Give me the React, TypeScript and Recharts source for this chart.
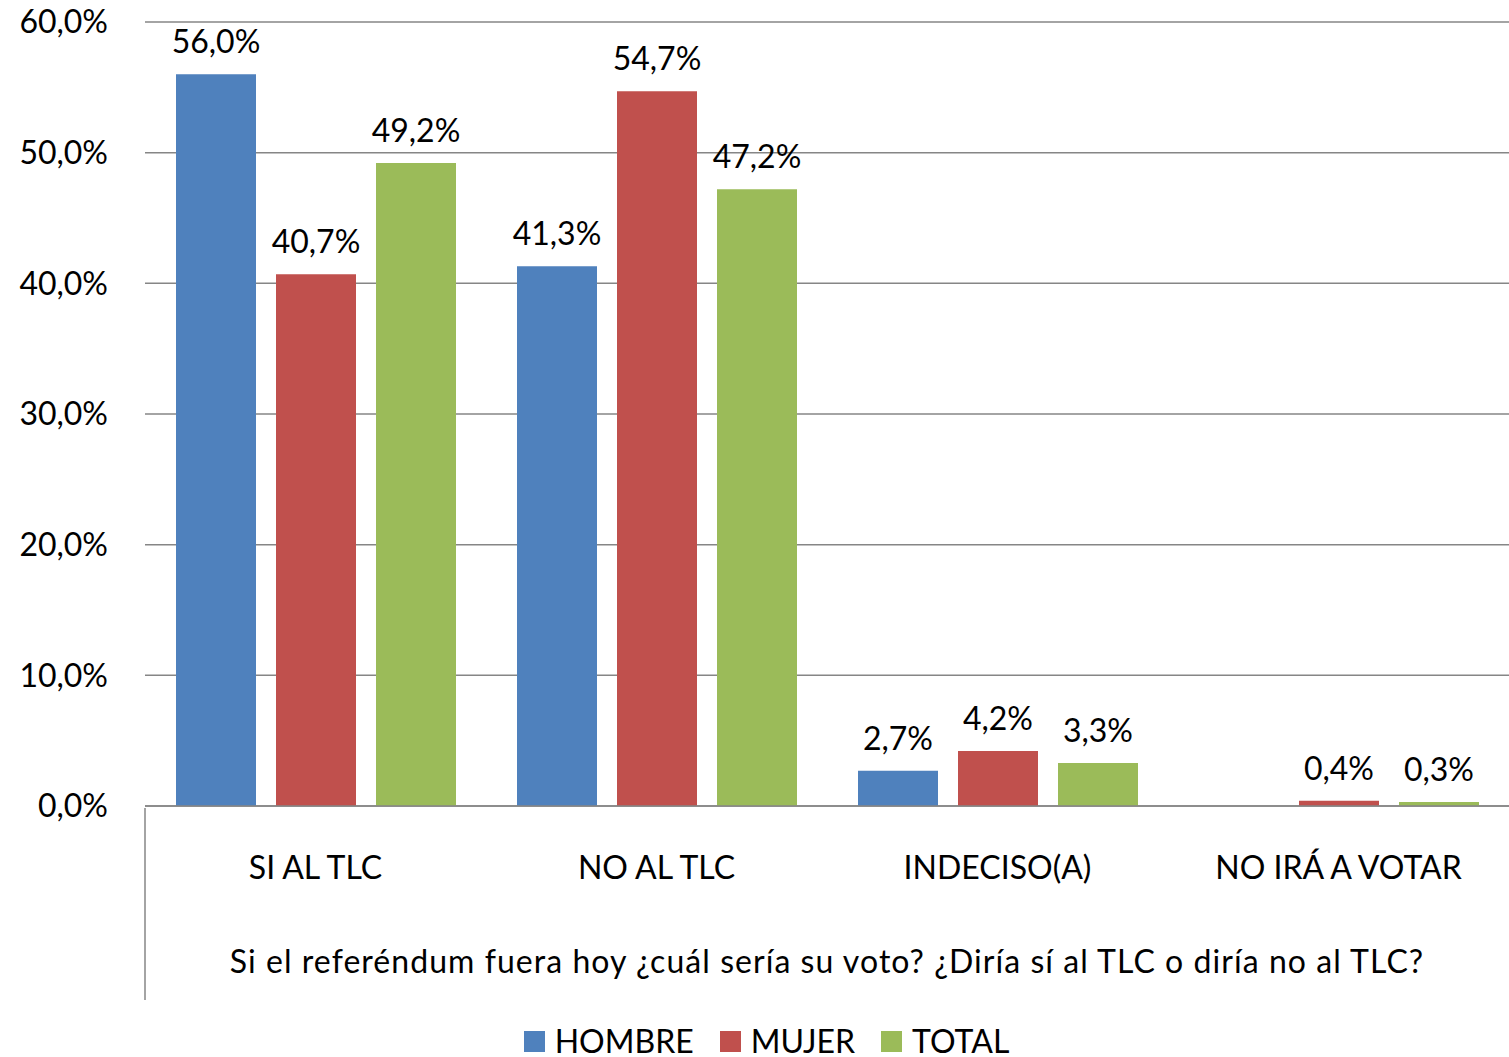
import React from "react";
import { BarChart, Bar, XAxis, YAxis, CartesianGrid, Legend, LabelList, Label } from "recharts";

const categories = ["SI AL TLC", "NO AL TLC", "INDECISO(A)", "NO IRÁ A VOTAR"];
const hombre = [56.0, 41.3, 2.7, null];
const mujer = [40.7, 54.7, 4.2, 0.4];
const total = [49.2, 47.2, 3.3, 0.3];
const yTicks = [0, 10, 20, 30, 40, 50, 60];
const question = "Si el referéndum fuera hoy ¿cuál sería su voto? ¿Diría sí al TLC o diría no al TLC?";
const seriesKeys = ["hombre", "mujer", "total"];
const seriesNames = ["HOMBRE", "MUJER", "TOTAL"];
const seriesColors = ["#4F81BD", "#C0504D", "#9BBB59"];

const data = categories.map((name, i) => ({
  name,
  hombre: hombre[i],
  mujer: mujer[i],
  total: total[i]
}));

const pct = (v: any) => (v === null || v === undefined ? "" : `${Number(v).toFixed(1).replace(".", ",")}%`);

function CategoryTick(props: any) {
  const { x, y, payload, index } = props;
  const half = payload?.offset ?? 170.5;
  return (
    <g>
      {index === 0 && (
        <line x1={x - half} x2={x - half} y1={y} y2={y + 192} stroke="#868686" strokeWidth={1.5} />
      )}
      <text x={x} y={y + 71} textAnchor="middle" fill="#000" fontSize={32}>
        {payload.value}
      </text>
    </g>
  );
}

function LegendContent() {
  return (
    <div style={{ height: 50, display: "flex", justifyContent: "center", alignItems: "center", paddingLeft: 24, paddingTop: 18, boxSizing: "border-box" }}>
      {seriesNames.map((n, i) => (
        <div key={n} style={{ display: "flex", alignItems: "center", marginRight: i < 2 ? 26 : 0 }}>
          <div style={{ width: 21, height: 21, background: seriesColors[i], marginRight: 10 }} />
          <span style={{ fontSize: 32, color: "#000", lineHeight: "26px" }}>{n}</span>
        </div>
      ))}
    </div>
  );
}

export default function App() {
  return (
    <div style={{ position: "absolute", left: 0, top: 0, fontFamily: "Lato, sans-serif", background: "#fff" }}>
      <BarChart
        width={1509}
        height={1057}
        data={data}
        margin={{ top: 22, right: 0, left: 0, bottom: 0 }}
        barSize={80}
        barGap={20}
      >
        <CartesianGrid vertical={false} stroke="#868686" strokeWidth={1.5} />
        <YAxis
          width={145}
          domain={[0, 60]}
          ticks={yTicks}
          tickFormatter={pct}
          axisLine={false}
          tickLine={false}
          tickSize={0}
          tickMargin={37}
          tick={{ fill: "#000", fontSize: 32 }}
        />
        <XAxis
          dataKey="name"
          height={201}
          axisLine={{ stroke: "#868686", strokeWidth: 1.5 }}
          tickLine={false}
          tickSize={0}
          tick={<CategoryTick />}
          interval={0}
        >
          <Label value={question} position="insideBottom" offset={34} fill="#000" fontSize={32} letterSpacing={1.05} />
        </XAxis>
        <Legend verticalAlign="bottom" content={<LegendContent />} />
        {seriesKeys.map((k, i) => (
          <Bar key={k} dataKey={k} name={seriesNames[i]} fill={seriesColors[i]} isAnimationActive={false}>
            <LabelList dataKey={k} position="top" offset={21} formatter={pct} fill="#000" fontSize={32} />
          </Bar>
        ))}
      </BarChart>
    </div>
  );
}
